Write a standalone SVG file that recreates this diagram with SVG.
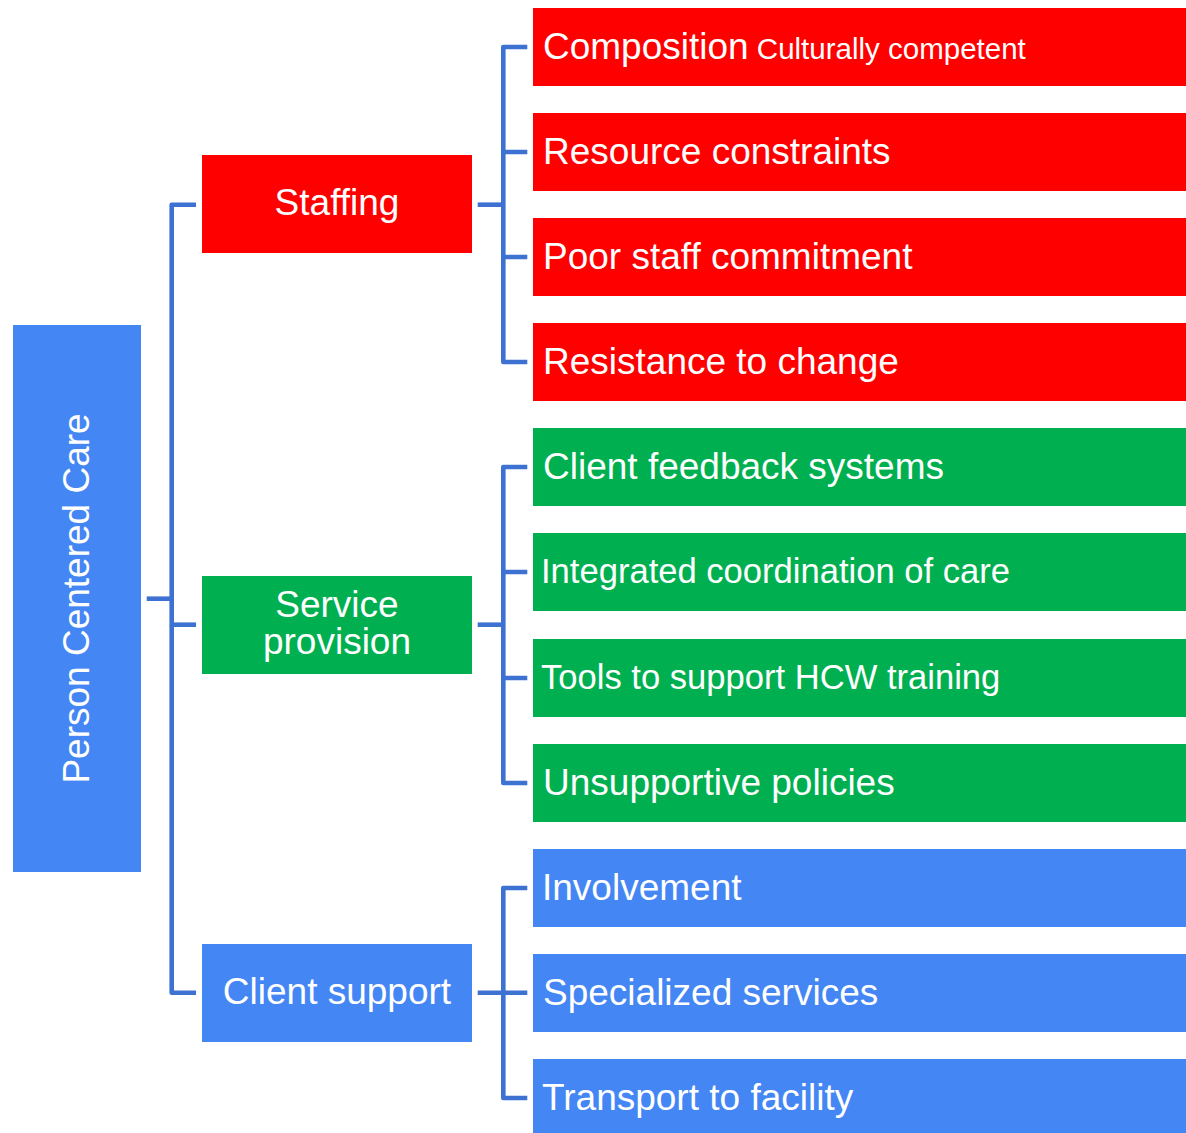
<svg xmlns="http://www.w3.org/2000/svg" width="1186" height="1133" viewBox="0 0 1186 1133">
<style>
.red{fill:#FF0000}.green{fill:#00B050}.blue{fill:#4486F4}
text{font-family:"Liberation Sans",Arial,sans-serif;fill:#FFFFFF}
.big{font-size:37px}.mid{font-size:34.6px}.small{font-size:29.5px}
.conn path{fill:none;stroke:#3D71D2;stroke-width:4.6;stroke-linejoin:round}
</style>
<rect width="1186" height="1133" fill="#FFFFFF"/>
<g class="conn" id="connectors">
<path d="M146.7 598.7H171.7"/>
<path d="M196 204.7H171.7V992.7H196"/>
<path d="M171.7 624.7H196"/>
<path d="M477.7 204.7H503.3"/>
<path d="M527.3 47H503.3V362H527.3"/>
<path d="M503.3 152H527.3M503.3 257H527.3"/>
<path d="M477.7 624.7H503.3"/>
<path d="M527.3 467H503.3V783H527.3"/>
<path d="M503.3 572H527.3M503.3 678H527.3"/>
<path d="M477.7 992.7H527.3"/>
<path d="M527.3 888H503.3V1098H527.3"/>
</g>
<g id="root"><rect class="blue" x="13" y="325" width="128" height="547"/><text class="big" transform="translate(89 598.5) rotate(-90)" text-anchor="middle">Person Centered Care</text></g>
<g id="staffing"><rect class="red" x="202" y="155" width="270" height="98"/><text class="big" x="337" y="215" text-anchor="middle">Staffing</text></g>
<g id="service"><rect class="green" x="202" y="576" width="270" height="98"/><text class="big" x="337" y="617" text-anchor="middle">Service</text><text class="big" x="337" y="654" text-anchor="middle">provision</text></g>
<g id="client"><rect class="blue" x="202" y="944" width="270" height="98"/><text class="big" x="337" y="1004" text-anchor="middle">Client support</text></g>
<g id="composition"><rect class="red" x="533" y="8" width="653" height="78"/><text x="543" y="59"><tspan class="big">Composition</tspan><tspan class="small"> Culturally competent</tspan></text></g>
<g id="resource"><rect class="red" x="533" y="113" width="653" height="78"/><text class="big" x="543" y="164">Resource constraints</text></g>
<g id="poor"><rect class="red" x="533" y="218" width="653" height="78"/><text class="big" x="543" y="269">Poor staff commitment</text></g>
<g id="resistance"><rect class="red" x="533" y="323" width="653" height="78"/><text class="big" x="543" y="374">Resistance to change</text></g>
<g id="feedback"><rect class="green" x="533" y="428" width="653" height="78"/><text class="big" x="543" y="479">Client feedback systems</text></g>
<g id="integrated"><rect class="green" x="533" y="533" width="653" height="78"/><text class="mid" x="541" y="583">Integrated coordination of care</text></g>
<g id="tools"><rect class="green" x="533" y="639" width="653" height="78"/><text class="mid" x="541" y="689">Tools to support HCW training</text></g>
<g id="unsupportive"><rect class="green" x="533" y="744" width="653" height="78"/><text class="big" x="543" y="795">Unsupportive policies</text></g>
<g id="involvement"><rect class="blue" x="533" y="849" width="653" height="78"/><text class="big" x="542" y="900">Involvement</text></g>
<g id="specialized"><rect class="blue" x="533" y="954" width="653" height="78"/><text class="big" x="543" y="1005">Specialized services</text></g>
<g id="transport"><rect class="blue" x="533" y="1059" width="653" height="78"/><text class="big" x="542" y="1110">Transport to facility</text></g>
</svg>
